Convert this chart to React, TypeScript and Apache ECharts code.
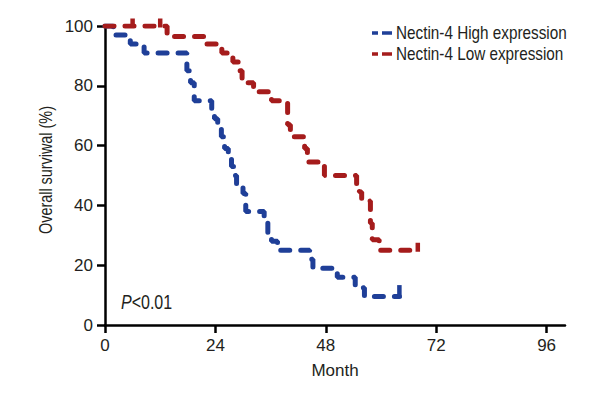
import React, { useEffect, useRef } from "react";
import * as echarts from "echarts";

const highMonths = [0, 1.8, 5.5, 8.5, 17.8, 18.6, 19.4, 23.2, 23.8, 24.5, 25.3, 26, 26.8, 27.5, 28.2, 28.6, 30, 30.6, 34.6, 35.4, 36.2, 37.5, 44.5, 45.2, 50.5, 54.4, 56.4, 64];
const highSurv = [100, 97, 94, 91, 85, 81, 75, 72, 69, 66, 63, 59, 56, 53, 50, 47, 44, 38, 35, 31, 28, 25, 22, 19, 16, 12.5, 9.5, 9.5];

const lowMonths = [0, 13.5, 21.5, 25.4, 27.8, 29.3, 29.8, 32.3, 36.2, 39.7, 40.3, 43.4, 44, 47.7, 54.7, 55.3, 55.8, 57.7, 58.1, 59.6, 68];
const lowSurv = [100, 96.5, 94, 91, 88, 85, 81, 78, 75, 67, 63, 59, 54.5, 50, 47, 44.5, 41.5, 34, 28.5, 25, 25];

const highCensorMonths = [64];
const highCensorSurv = [9.5];
const lowCensorMonths = [6, 12, 68];
const lowCensorSurv = [100, 100, 25];

const xTicks = [0, 24, 48, 72, 96];
const seriesNames = ["Nectin-4 High expression", "Nectin-4 Low expression"];
const yTitle = "Overall surviwal (%)";
const xTitle = "Month";
const pText = "P<0.01";

const BLUE = "#1f3f98";
const RED = "#a51c1c";
const TXT = "#231f20";
const FONT = "'Liberation Sans', Arial, sans-serif";

const zip = (a: number[], b: number[]) => a.map((v, i) => [v, b[i]]);

export default function App() {
  const ref = useRef<HTMLDivElement>(null);
  useEffect(() => {
    if (!ref.current) return;
    const chart = echarts.init(ref.current, undefined, { renderer: "svg" });
    const dash = { width: 5, type: [9, 11] as any, cap: "round" as any };
    const legendRow = (y: number, color: string, name: string) => [
      {
        type: "line",
        shape: { x1: 372, y1: y, x2: 392, y2: y },
        style: { stroke: color, lineWidth: 3.5, lineDash: [6, 4, 10, 4] },
      },
      {
        type: "text",
        x: 396,
        y: y,
        scaleX: 0.85,
        style: {
          text: name,
          fontSize: 18,
          fontFamily: FONT,
          fill: TXT,
          align: "left",
          verticalAlign: "middle",
        },
      },
    ];
    chart.setOption({
      animation: false,
      backgroundColor: "#ffffff",
      textStyle: { fontFamily: FONT },
      grid: { left: 105, right: 35, top: 26, bottom: 75, outerBoundsMode: "none" },
      xAxis: {
        type: "value",
        min: 0,
        max: 100,
        interval: 24,
        name: xTitle,
        nameLocation: "middle",
        nameGap: 37,
        nameTextStyle: { fontSize: 17, color: TXT, fontFamily: FONT },
        axisLine: { show: true, lineStyle: { color: "#000", width: 2.5 } },
        axisTick: { show: true, length: 8, lineStyle: { color: "#000", width: 2.5 }, customValues: xTicks },
        axisLabel: { fontSize: 17, color: TXT, margin: 12, fontFamily: FONT, customValues: xTicks },
        splitLine: { show: false },
      },
      yAxis: {
        type: "value",
        min: 0,
        max: 100,
        interval: 20,
        axisLine: { show: true, lineStyle: { color: "#000", width: 2.5 } },
        axisTick: { show: true, length: 8, lineStyle: { color: "#000", width: 2.5 } },
        axisLabel: { fontSize: 17, color: TXT, margin: 12, fontFamily: FONT },
        splitLine: { show: false },
      },
      series: [
        {
          name: seriesNames[0],
          type: "line",
          step: "end",
          data: zip(highMonths, highSurv),
          showSymbol: false,
          symbol: "none",
          color: BLUE,
          lineStyle: { ...dash, color: BLUE },
          z: 3,
        },
        {
          name: seriesNames[1],
          type: "line",
          step: "end",
          data: zip(lowMonths, lowSurv),
          showSymbol: false,
          symbol: "none",
          color: RED,
          lineStyle: { ...dash, color: RED },
          z: 4,
        },
        {
          name: "highCensor",
          type: "scatter",
          data: zip(highCensorMonths, highCensorSurv),
          symbol: "rect",
          symbolSize: [4.5, 13],
          symbolOffset: [0, -5],
          itemStyle: { color: BLUE, opacity: 1 },
          z: 3,
        },
        {
          name: "lowCensor",
          type: "scatter",
          data: zip(lowCensorMonths, lowCensorSurv),
          symbol: "rect",
          symbolSize: [4.5, 9],
          symbolOffset: [0, -3],
          itemStyle: { color: RED, opacity: 1 },
          z: 4,
        },
      ],
      graphic: [
        ...legendRow(33, BLUE, seriesNames[0]),
        ...legendRow(54, RED, seriesNames[1]),
        {
          type: "text",
          x: 45,
          y: 170,
          rotation: Math.PI / 2,
          scaleX: 0.8,
          style: {
            text: yTitle,
            fontSize: 18,
            fontFamily: FONT,
            fill: TXT,
            align: "center",
            verticalAlign: "middle",
          },
        },
        {
          type: "text",
          x: 121,
          y: 302,
          scaleX: 0.8,
          style: {
            text: "{i|P}{n|" + pText.slice(1) + "}",
            verticalAlign: "middle",
            rich: {
              i: { fontSize: 20, fontStyle: "italic", fill: TXT, fontFamily: FONT },
              n: { fontSize: 20, fill: TXT, fontFamily: FONT },
            },
          },
        },
      ],
    });
    return () => chart.dispose();
  }, []);
  return (
    <div
      ref={ref}
      style={{ position: "fixed", left: 0, top: 0, width: 600, height: 400, background: "#fff" }}
    />
  );
}
